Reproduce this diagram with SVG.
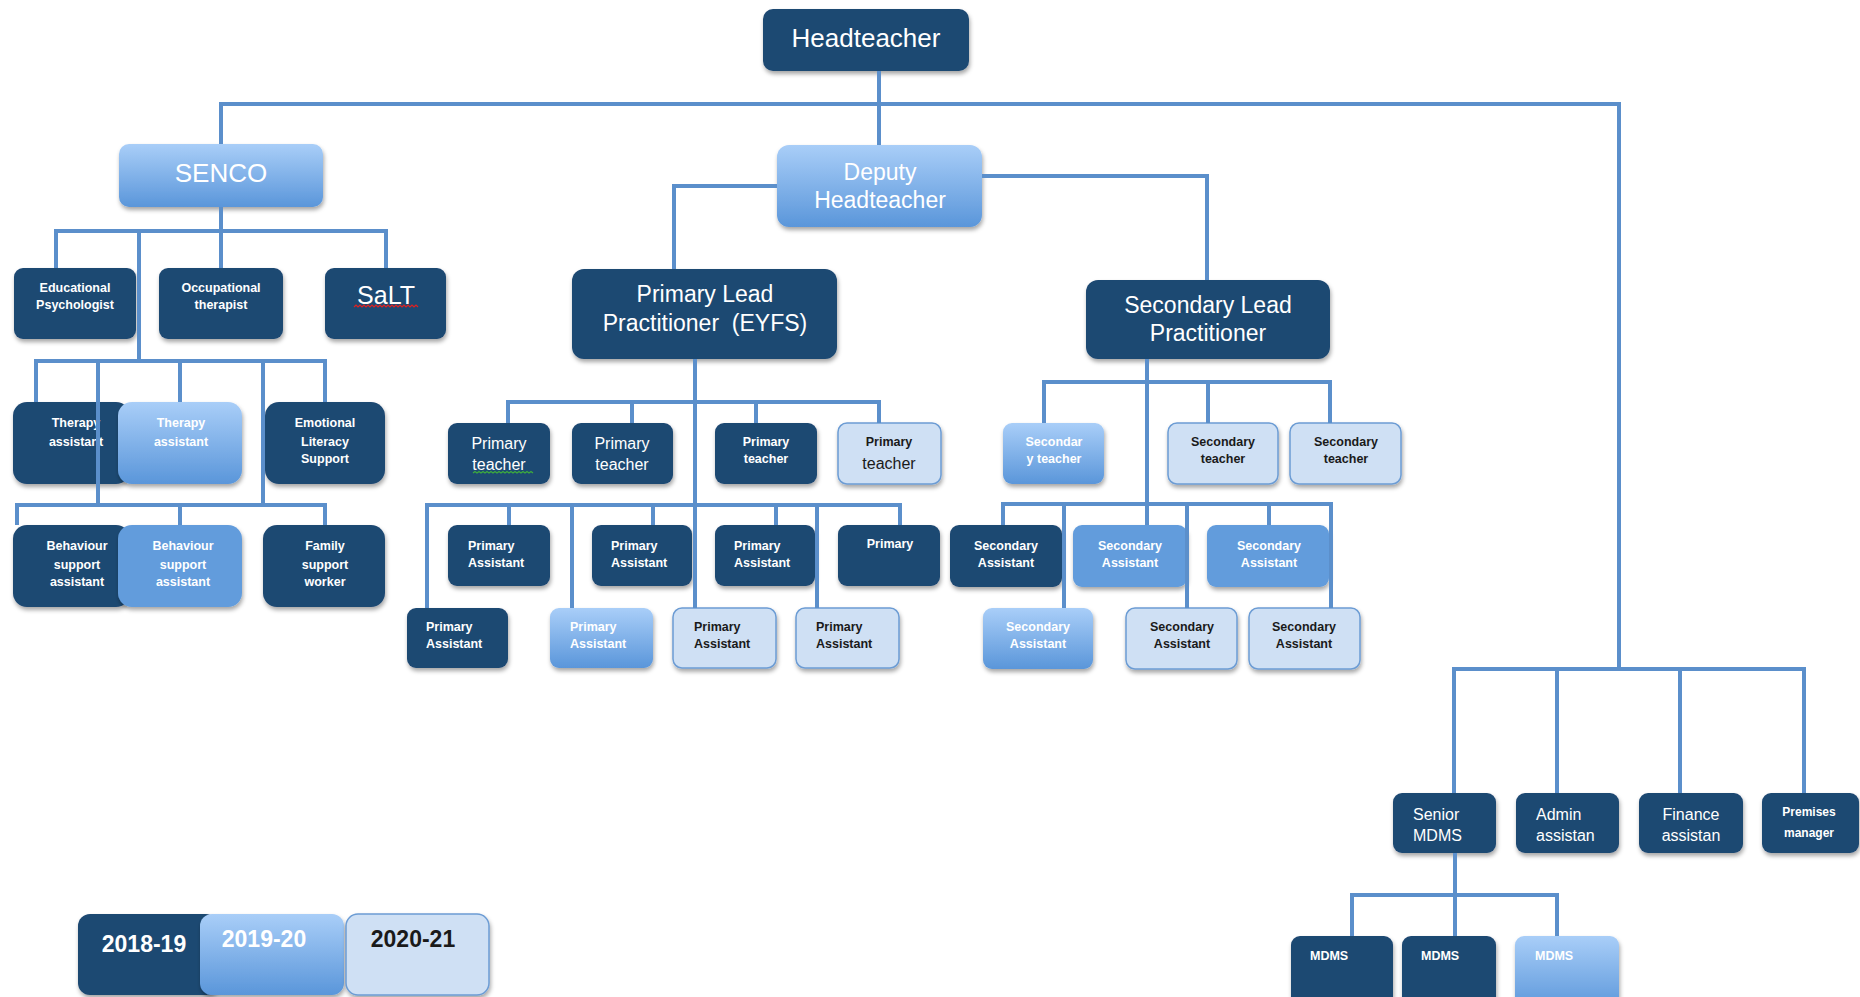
<svg xmlns="http://www.w3.org/2000/svg" width="1860" height="997" viewBox="0 0 1860 997">
<defs>
<linearGradient id="gl" x1="0" y1="0" x2="0" y2="1">
<stop offset="0" stop-color="#A9CEF8"/>
<stop offset="1" stop-color="#5A96DA"/>
</linearGradient>
<filter id="sh" x="-15%" y="-15%" width="135%" height="145%">
<feDropShadow dx="1" dy="3" stdDeviation="2.2" flood-color="#000" flood-opacity="0.35"/>
</filter>
<style>
text{font-family:"Liberation Sans",Arial,Helvetica,sans-serif}
.n{filter:url(#sh)}
.dk{fill:#1F4872}
.lt{fill:url(#gl)}
.md{fill:#629CDC}
.vl{fill:#CFE0F4;stroke:#6C9CD4;stroke-width:1.5}
.w{fill:#FFFFFF}
.k{fill:#1A1A1A}
.s{font-size:12.5px;font-weight:bold}
.m{font-size:16px}
.L{font-size:23px}
.c{text-anchor:middle}
.conn path{fill:none;stroke:#5B8FCB;stroke-width:4}
.sq{fill:none;stroke-width:1.2}
</style>
</defs>
<rect width="1860" height="997" fill="#FFFFFF"/>

<g id="headteacher"><rect class="n dk" x="763" y="9" width="206" height="62" rx="10"/><text class="w c" x="866" y="47" font-size="26">Headteacher</text></g>
<g id="senco"><rect class="n lt" x="119" y="144" width="204" height="63" rx="10"/><text class="w c" x="221" y="182" font-size="26">SENCO</text></g>
<g id="deputy"><rect class="n lt" x="777" y="145" width="205" height="82" rx="12"/><text class="w c L" x="880" y="180">Deputy</text><text class="w c L" x="880" y="208">Headteacher</text></g>

<g id="edpsych"><rect class="n dk" x="14" y="268" width="122" height="71" rx="9"/><text class="w c s" x="75" y="292">Educational</text><text class="w c s" x="75" y="309">Psychologist</text></g>
<g id="occther"><rect class="n dk" x="159" y="268" width="124" height="71" rx="9"/><text class="w c s" x="221" y="292">Occupational</text><text class="w c s" x="221" y="309">therapist</text></g>
<g id="salt"><rect class="n dk" x="325" y="268" width="121" height="71" rx="9"/><text class="w c" x="386" y="304" font-size="25">SaLT</text><path class="sq" stroke="#E02020" d="M354,307 l2,-2 l2,2 l2,-2 l2,2 l2,-2 l2,2 l2,-2 l2,2 l2,-2 l2,2 l2,-2 l2,2 l2,-2 l2,2 l2,-2 l2,2 l2,-2 l2,2 l2,-2 l2,2 l2,-2 l2,2 l2,-2 l2,2 l2,-2 l2,2 l2,-2 l2,2 l2,-2 l2,2 l2,-2 l2,2"/></g>

<g id="primarylead"><rect class="n dk" x="572" y="269" width="265" height="90" rx="12"/><text class="w c L" x="705" y="302">Primary Lead</text><text class="w c L" x="705" y="331" xml:space="preserve">Practitioner  (EYFS)</text></g>
<g id="secondarylead"><rect class="n dk" x="1086" y="280" width="244" height="79" rx="12"/><text class="w c L" x="1208" y="313">Secondary Lead</text><text class="w c L" x="1208" y="341">Practitioner</text></g>

<g id="therapy1"><rect class="n dk" x="13" y="402" width="117" height="82" rx="14"/><text class="w c s" x="76" y="427">Therapy</text><text class="w c s" x="76" y="446">assistant</text></g>
<g id="therapy2"><rect class="n lt" x="118" y="402" width="124" height="82" rx="14"/><text class="w c s" x="181" y="427">Therapy</text><text class="w c s" x="181" y="446">assistant</text></g>
<g id="emotional"><rect class="n dk" x="265" y="402" width="120" height="82" rx="14"/><text class="w c s" x="325" y="427">Emotional</text><text class="w c s" x="325" y="446">Literacy</text><text class="w c s" x="325" y="463">Support</text></g>
<g id="behaviour1"><rect class="n dk" x="13" y="525" width="117" height="82" rx="14"/><text class="w c s" x="77" y="550">Behaviour</text><text class="w c s" x="77" y="569">support</text><text class="w c s" x="77" y="586">assistant</text></g>
<g id="behaviour2"><rect class="n md" x="118" y="525" width="124" height="82" rx="14"/><text class="w c s" x="183" y="550">Behaviour</text><text class="w c s" x="183" y="569">support</text><text class="w c s" x="183" y="586">assistant</text></g>
<g id="family"><rect class="n dk" x="263" y="525" width="122" height="82" rx="14"/><text class="w c s" x="325" y="550">Family</text><text class="w c s" x="325" y="569">support</text><text class="w c s" x="325" y="586">worker</text></g>

<g id="pt1"><rect class="n dk" x="448" y="423" width="102" height="61" rx="9"/><text class="w c m" x="499" y="449">Primary</text><text class="w c m" x="499" y="470">teacher</text><path class="sq" stroke="#3DAA3D" d="M473,473 l2,-1.5 l2,1.5 l2,-1.5 l2,1.5 l2,-1.5 l2,1.5 l2,-1.5 l2,1.5 l2,-1.5 l2,1.5 l2,-1.5 l2,1.5 l2,-1.5 l2,1.5 l2,-1.5 l2,1.5 l2,-1.5 l2,1.5 l2,-1.5 l2,1.5 l2,-1.5 l2,1.5 l2,-1.5 l2,1.5 l2,-1.5 l2,1.5 l2,-1.5 l2,1.5 l2,-1.5 l2,1.5"/></g>
<g id="pt2"><rect class="n dk" x="572" y="423" width="101" height="61" rx="9"/><text class="w c m" x="622" y="449">Primary</text><text class="w c m" x="622" y="470">teacher</text></g>
<g id="pt3"><rect class="n dk" x="715" y="423" width="102" height="61" rx="9"/><text class="w c s" x="766" y="446">Primary</text><text class="w c s" x="766" y="463">teacher</text></g>
<g id="pt4"><rect class="n vl" x="838" y="423" width="103" height="61" rx="9"/><text class="k c s" x="889" y="446">Primary</text><text class="k c m" x="889" y="469">teacher</text></g>

<g id="pa1"><rect class="n dk" x="448" y="525" width="102" height="61" rx="9"/><text class="w s" x="468" y="550">Primary</text><text class="w s" x="468" y="567">Assistant</text></g>
<g id="pa2"><rect class="n dk" x="592" y="525" width="100" height="61" rx="9"/><text class="w s" x="611" y="550">Primary</text><text class="w s" x="611" y="567">Assistant</text></g>
<g id="pa3"><rect class="n dk" x="715" y="525" width="100" height="61" rx="9"/><text class="w s" x="734" y="550">Primary</text><text class="w s" x="734" y="567">Assistant</text></g>
<g id="pa4"><rect class="n dk" x="838" y="525" width="102" height="61" rx="9"/><text class="w c s" x="890" y="548">Primary</text></g>
<g id="pb1"><rect class="n dk" x="407" y="608" width="101" height="60" rx="9"/><text class="w s" x="426" y="631">Primary</text><text class="w s" x="426" y="648">Assistant</text></g>
<g id="pb2"><rect class="n lt" x="550" y="608" width="103" height="60" rx="9"/><text class="w s" x="570" y="631">Primary</text><text class="w s" x="570" y="648">Assistant</text></g>
<g id="pb3"><rect class="n vl" x="673" y="608" width="103" height="60" rx="9"/><text class="k s" x="694" y="631">Primary</text><text class="k s" x="694" y="648">Assistant</text></g>
<g id="pb4"><rect class="n vl" x="796" y="608" width="103" height="60" rx="9"/><text class="k s" x="816" y="631">Primary</text><text class="k s" x="816" y="648">Assistant</text></g>

<g id="st1"><rect class="n lt" x="1003" y="423" width="101" height="61" rx="9"/><text class="w c s" x="1054" y="446">Secondar</text><text class="w c s" x="1054" y="463">y teacher</text></g>
<g id="st2"><rect class="n vl" x="1168" y="423" width="110" height="61" rx="9"/><text class="k c s" x="1223" y="446">Secondary</text><text class="k c s" x="1223" y="463">teacher</text></g>
<g id="st3"><rect class="n vl" x="1290" y="423" width="111" height="61" rx="9"/><text class="k c s" x="1346" y="446">Secondary</text><text class="k c s" x="1346" y="463">teacher</text></g>

<g id="sa1"><rect class="n dk" x="950" y="525" width="112" height="62" rx="9"/><text class="w c s" x="1006" y="550">Secondary</text><text class="w c s" x="1006" y="567">Assistant</text></g>
<g id="sa2"><rect class="n md" x="1073" y="525" width="114" height="62" rx="9"/><text class="w c s" x="1130" y="550">Secondary</text><text class="w c s" x="1130" y="567">Assistant</text></g>
<g id="sa3"><rect class="n md" x="1207" y="525" width="122" height="62" rx="9"/><text class="w c s" x="1269" y="550">Secondary</text><text class="w c s" x="1269" y="567">Assistant</text></g>
<g id="sb1"><rect class="n lt" x="983" y="608" width="110" height="61" rx="9"/><text class="w c s" x="1038" y="631">Secondary</text><text class="w c s" x="1038" y="648">Assistant</text></g>
<g id="sb2"><rect class="n vl" x="1126" y="608" width="111" height="61" rx="9"/><text class="k c s" x="1182" y="631">Secondary</text><text class="k c s" x="1182" y="648">Assistant</text></g>
<g id="sb3"><rect class="n vl" x="1249" y="608" width="111" height="61" rx="9"/><text class="k c s" x="1304" y="631">Secondary</text><text class="k c s" x="1304" y="648">Assistant</text></g>

<g id="seniormdms"><rect class="n dk" x="1393" y="793" width="103" height="60" rx="9"/><text class="w m" x="1413" y="820">Senior</text><text class="w m" x="1413" y="841">MDMS</text></g>
<g id="admin"><rect class="n dk" x="1516" y="793" width="103" height="60" rx="9"/><text class="w m" x="1536" y="820">Admin</text><text class="w m" x="1536" y="841">assistan</text></g>
<g id="finance"><rect class="n dk" x="1639" y="793" width="104" height="60" rx="9"/><text class="w c m" x="1691" y="820">Finance</text><text class="w c m" x="1691" y="841">assistan</text></g>
<g id="premises"><rect class="n dk" x="1762" y="793" width="97" height="60" rx="9"/><text class="w c" x="1809" y="816" font-size="12" font-weight="bold">Premises</text><text class="w c" x="1809" y="837" font-size="12" font-weight="bold">manager</text></g>
<g id="mdms1"><rect class="n dk" x="1291" y="936" width="102" height="75" rx="9"/><text class="w s" x="1310" y="960">MDMS</text></g>
<g id="mdms2"><rect class="n dk" x="1402" y="936" width="94" height="75" rx="9"/><text class="w s" x="1421" y="960">MDMS</text></g>
<g id="mdms3"><rect class="n lt" x="1515" y="936" width="104" height="75" rx="9"/><text class="w s" x="1535" y="960">MDMS</text></g>

<g id="legend2018"><rect class="n dk" x="78" y="914" width="140" height="81" rx="12"/><text class="w c" x="144" y="952" font-size="23" font-weight="bold">2018-19</text></g>
<g id="legend2019"><rect class="n lt" x="200" y="914" width="144" height="81" rx="12"/><text class="w c" x="264" y="947" font-size="23" font-weight="bold">2019-20</text></g>
<g id="legend2020"><rect class="n vl" x="346" y="914" width="143" height="81" rx="12"/><text class="k c" x="413" y="947" font-size="23" font-weight="bold">2020-21</text></g>

<g class="conn" id="connectors">
<path d="M879,71 V145"/>
<path d="M221,144 V104 H1619 V669"/>
<path d="M221,207 V268"/>
<path d="M56,268 V231 H386 V268"/>
<path d="M139,231 V361"/>
<path d="M36,402 V361 H325 V402"/>
<path d="M180,361 V402"/>
<path d="M98,361 V505"/>
<path d="M263,361 V505"/>
<path d="M17,525 V505 H325 V525"/>
<path d="M180,505 V525"/>
<path d="M777,186 H674 V269"/>
<path d="M982,176 H1207 V280"/>
<path d="M695,359 V608"/>
<path d="M508,423 V402 H879 V423"/>
<path d="M632,402 V423"/>
<path d="M756,402 V423"/>
<path d="M427,608 V505 H900 V525"/>
<path d="M509,505 V525"/>
<path d="M572,505 V608"/>
<path d="M653,505 V525"/>
<path d="M776,505 V525"/>
<path d="M817,505 V608"/>
<path d="M1147,359 V525"/>
<path d="M1044,423 V382 H1330 V423"/>
<path d="M1208,382 V423"/>
<path d="M1003,525 V504 H1331 V608"/>
<path d="M1064,504 V608"/>
<path d="M1187,504 V608"/>
<path d="M1269,504 V525"/>
<path d="M1454,793 V669 H1804 V793"/>
<path d="M1557,669 V793"/>
<path d="M1680,669 V793"/>
<path d="M1455,853 V936"/>
<path d="M1352,936 V895 H1557 V936"/>
</g>
</svg>
